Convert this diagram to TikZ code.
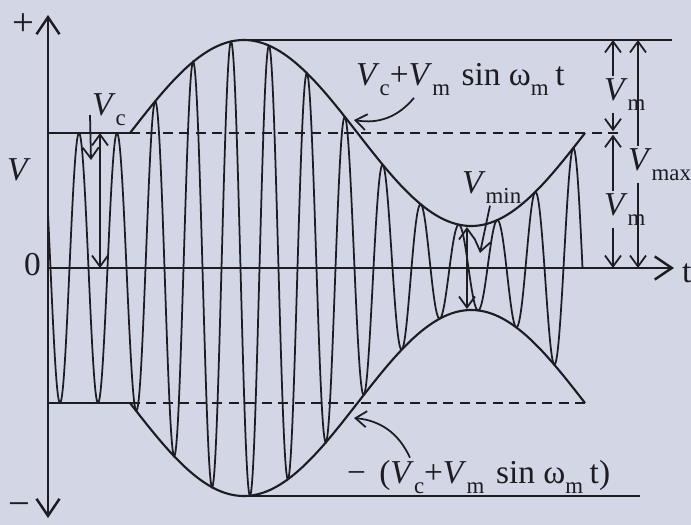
\documentclass[tikz,border=0pt]{standalone}
\usepackage{fontspec}
\setmainfont{Liberation Serif}
\usepackage{tikz}
\usetikzlibrary{arrows.meta,positioning}
\definecolor{scanbg}{RGB}{210,214,229}
\definecolor{ink}{RGB}{28,28,34}

\newcommand{\subl}[1]{\raisebox{-6pt}{\fontsize{13}{13}\selectfont #1}}
\newcommand{\modexpr}{\textit{V}\subl{c}+\textit{V}\subl{m}\hspace{0.35em}sin\hspace{0.25em}ω\subl{m}\hspace{0.2em}t}

\tikzset{
  bigbarb/.tip={Straight Barb[length=3.4mm,width=4.6mm]},
  smallbarb/.tip={Straight Barb[length=2.2mm,width=3.2mm]},
  axisline/.style={draw=ink, line width=1.4pt},
  carrier/.style={draw=ink, line width=1pt},
  envelope/.style={draw=ink, line width=1.2pt},
  guide/.style={draw=ink, line width=1.1pt, dash pattern=on 2mm off 1.3mm},
  dimline/.style={draw=ink, line width=1pt, -smallbarb},
  dimboth/.style={draw=ink, line width=1pt, smallbarb-smallbarb},
  leader/.style={draw=ink, line width=1pt, -smallbarb},
  lab/.style={text=ink, inner sep=1pt, font=\fontsize{19}{21}\selectfont},
  declare function={envel(\t)=135+(\t>82)*93*sin((\t-82)/455*360);}
}

\begin{document}
\begin{tikzpicture}[x=0.02cm,y=0.02cm]
  \fill[scanbg] (-48,-257) rectangle (643,268);
  \useasboundingbox (-48,-257) rectangle (643,268);

  % axes
  \draw[axisline, bigbarb-bigbarb] (0,-250) -- (0,253);
  \draw[axisline, -bigbarb] (0,0) -- (626,0);
  \node[lab, font=\fontsize{22}{24}\selectfont] (plus) at (-25,243) {+};
  \node[lab, font=\fontsize{22}{24}\selectfont] (minus) at (-29,-242) {−};
  \node[lab] (vaxis) at (-29,98) {\textit{V}};
  \node[lab, anchor=east] (zero) at (-5,3) {0};
  \node[lab, anchor=west] (tlab) at (632,-5) {t};

  % modulated carrier and its envelope
  \draw[carrier] plot[domain=0:534.5, samples=701] (\x,{envel(\x)*cos((\x-31)/38*360)});
  \draw[envelope] plot[domain=82:537, samples=150, smooth] (\x,{envel(\x)});
  \draw[envelope] plot[domain=82:537, samples=150, smooth] (\x,{-envel(\x)});

  % levels
  \draw[envelope] (0,135) -- (82,135);
  \draw[guide] (82,135) -- (570,135);
  \draw[envelope] (0,-135) -- (82,-135);
  \draw[guide] (82,-135) -- (537,-135);
  \draw[envelope] (196,228) -- (624,228);
  \draw[envelope] (196,-228) -- (592,-228);

  % labels
  \node[lab, anchor=base west] (eq) at (306,183) {\modexpr};
  \node[lab, anchor=base west] (negeq) at (297,-215) {−\hspace{0.4em}(\modexpr)};
  \node[lab, anchor=base west] (vc) at (42,153) {\textit{V}\subl{c}};
  \node[lab, anchor=base west] (vmin) at (412,75) {\textit{V}\subl{min}};
  \node[lab, anchor=base west] (vmup) at (554,168) {\textit{V}\subl{m}};
  \node[lab, anchor=base west] (vmlow) at (554,53) {\textit{V}\subl{m}};
  \node[lab, anchor=base west] (vmax) at (578,98) {\textit{V}\subl{max}};

  % leaders
  \coordinate (uptip) at (306,148);
  \coordinate (lowtip) at (306,-150);
  \coordinate (mintip) at (432,15);
  \coordinate (vctip) at (43,108);
  \draw[leader] ([xshift=1.2cm]eq.south west) to[bend left=30] (uptip);
  \draw[leader] ([xshift=1.3cm]negeq.north west) to[bend right=30] (lowtip);
  \draw[leader] ([xshift=6mm]vmin.south west) -- (mintip);
  \draw[leader] (vc.base west) -- (vctip);

  % dimensions
  \coordinate (vctop) at (52,135);
  \coordinate (vcbot) at (52,0);
  \draw[dimboth] (vctop) -- (vcbot);
  \coordinate (mintop) at (419,41);
  \coordinate (minbot) at (419,-41);
  \draw[dimboth] (mintop) -- (minbot);
  \coordinate (mtop) at (565,228);
  \coordinate (mmid) at (565,135);
  \coordinate (mbot) at (565,0);
  \draw[dimline] (mtop |- vmup.north) -- (mtop);
  \draw[dimline] (mtop |- vmup.south) -- ([yshift=1pt]mmid);
  \draw[dimline] (mtop |- vmlow.north) -- ([yshift=-1pt]mmid);
  \draw[dimline] (mtop |- vmlow.south) -- (mbot);
  \coordinate (xtop) at (590,228);
  \coordinate (xbot) at (590,0);
  \draw[dimline] (xtop |- vmax.north) -- (xtop);
  \draw[dimline] (xtop |- vmax.south) -- (xbot);
\end{tikzpicture}
\end{document}
